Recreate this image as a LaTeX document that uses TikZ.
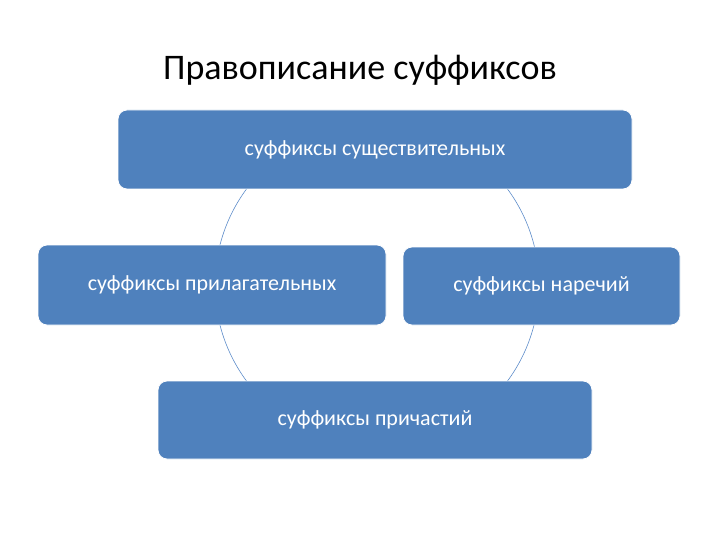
\documentclass[tikz,border=0pt]{standalone}
\usepackage{fontspec}
\setmainfont{Carlito}
\definecolor{boxblue}{HTML}{4F81BD}
\definecolor{arcblue}{HTML}{5B8BC9}
\begin{document}
\begin{tikzpicture}[x=1pt,y=-1pt,
  sbox/.style={fill=boxblue,draw=white,line width=0.8pt,rounded corners=9pt,text=white,font=\fontsize{22}{26}\selectfont,inner sep=0pt}]
\useasboundingbox (0,0) rectangle (720,540);
\draw[arcblue,line width=0.6pt] (377,285) circle (162);
\node[font=\fontsize{36}{42}\selectfont] (title) at (360,70) {Правописание суффиксов};
\node[sbox,minimum width=514pt,minimum height=79pt] (top) at (375,149.5) {};
\node[text=white,font=\fontsize{22}{26}\selectfont] (topt) at (375,150) {суффиксы существительных};
\node[sbox,minimum width=348pt,minimum height=80pt] (left) at (212,285) {суффиксы прилагательных};
\node[sbox,minimum width=277pt,minimum height=78pt] (right) at (541.5,286) {суффиксы наречий};
\node[sbox,minimum width=434pt,minimum height=78pt] (bot) at (375,420) {суффиксы причастий};
\end{tikzpicture}
\end{document}
